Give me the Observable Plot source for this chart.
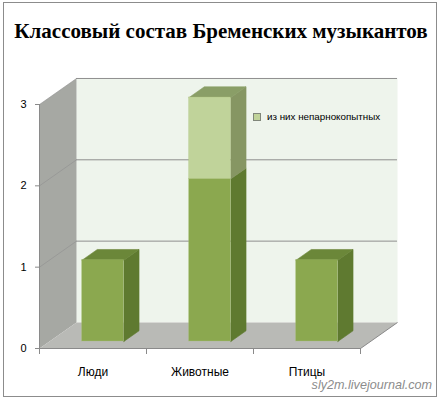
<!DOCTYPE html>
<html>
<head>
<meta charset="utf-8">
<script src="https://cdn.jsdelivr.net/npm/d3@7"></script>
<script src="https://cdn.jsdelivr.net/npm/@observablehq/plot@0.6"></script>
<style>
  html, body { margin: 0; padding: 0; background: #fff; }
  #wrap { position: relative; width: 439px; height: 398px; overflow: hidden; background: #fff; }
  #border { position: absolute; left: 3px; top: 2px; width: 434px; height: 395px; box-sizing: border-box; border: 1px solid #8c8c8c; }
  #title { position: absolute; left: 0; top: 21px; width: 442px; text-align: center; font: bold 21px/20px "Liberation Serif", "DejaVu Serif", serif; color: #000; white-space: nowrap; }
  #chart { position: absolute; left: 0; top: 0; }
  #legend { position: absolute; left: 253px; top: 111px; font: 9.8px/12px "Liberation Sans", Arial, sans-serif; color: #000; white-space: nowrap; }
  #legend .sw { display: inline-block; width: 6px; height: 6px; border: 1px solid #80867a; background: #c0d39a; margin-right: 6px; vertical-align: -1px; }
  #credit { position: absolute; right: 7px; top: 378px; font: italic 12.6px/14px "Liberation Sans", Arial, sans-serif; color: #8c8c8c; }
</style>
</head>
<body>
<div id="wrap">
  <div id="border"></div>
  <div id="chart"></div>
  <div id="title">Классовый состав Бременских музыкантов</div>
  <div id="legend"><span class="sw"></span>из них непарнокопытных</div>
  <div id="credit">sly2m.livejournal.com</div>
</div>
<script>
// ---- data ----
const categories = ["Люди", "Животные", "Птицы"];
const baseValues = [1, 2, 1];          // основной ряд
const oddToedValues = [0, 1, 0];       // из них непарнокопытных
const seriesNames = ["", "из них непарнокопытных"];
const yTicks = [0, 1, 2, 3];

// ---- 3D geometry in data units ----
const Dx = 0.346, Dy = 0.32;      // depth of the box
const f0 = 0.27, f1 = 0.68;       // bar depth span (fraction of box depth)
const barW = 0.39;                // bar width (category units)
const yMax = yTicks[yTicks.length - 1];
const xMin = -0.5, xMax = categories.length - 0.5;

const colors = {
  base: { front: "#8ba84f", side: "#5f7a30", top: "#6b8739" },
  odd:  { front: "#c0d39a", side: "#869663", top: "#8a9e67" }
};

// segments
const segments = [];
categories.forEach((c, i) => {
  const b = baseValues[i], o = oddToedValues[i];
  segments.push({i, lo: 0, hi: b, kind: "base", isTop: o === 0});
  if (o > 0) segments.push({i, lo: b, hi: b + o, kind: "odd", isTop: true});
});

// polygons
const polys = [];
function addPoly(id, fill, pts) {
  pts.concat([pts[0]]).forEach(([x, y]) => polys.push({id, fill, x, y}));
}
// walls
addPoly("back", "#eef4ec", [[xMin + Dx, Dy], [xMax + Dx, Dy], [xMax + Dx, yMax + Dy], [xMin + Dx, yMax + Dy]]);
addPoly("left", "#a6a8a3", [[xMin, 0], [xMin + Dx, Dy], [xMin + Dx, yMax + Dy], [xMin, yMax]]);
addPoly("floor", "#b9bab6", [[xMin, 0], [xMax, 0], [xMax + Dx, Dy], [xMin + Dx, Dy]]);

const fronts = [];
const ddx = (f1 - f0) * Dx, ddy = (f1 - f0) * Dy;
segments.forEach((s, k) => {
  const xl = s.i - barW / 2 + f0 * Dx, xr = xl + barW;
  const lo = s.lo + f0 * Dy, hi = s.hi + f0 * Dy;
  const col = colors[s.kind];
  addPoly("side" + k, col.side, [[xr, lo], [xr + ddx, lo + ddy], [xr + ddx, hi + ddy], [xr, hi]]);
  if (s.isTop) addPoly("top" + k, col.top, [[xl, hi], [xr, hi], [xr + ddx, hi + ddy], [xl + ddx, hi + ddy]]);
  fronts.push({x1: xl, x2: xr, y1: lo, y2: hi, fill: col.front});
});

const polyIds = [...new Set(polys.map(d => d.id))];
const polyMarks = polyIds.map(id => {
  const rows = polys.filter(d => d.id === id);
  return Plot.line(rows, {x: "x", y: "y", fill: rows[0].fill, stroke: id.startsWith("side") || id.startsWith("top") ? rows[0].fill : "none", strokeWidth: 0.6, curve: "linear"});
});

const boundaries = categories.map((_, i) => i - 0.5).concat([categories.length - 0.5]);

const chart = Plot.plot({
  width: 439,
  height: 398,
  marginLeft: 39,
  marginRight: 79,
  marginTop: 104,
  marginBottom: 50,
  style: {background: "transparent", fontFamily: "'Liberation Sans', Arial, sans-serif", fontSize: "12px", color: "#000"},
  x: {domain: [xMin, xMax], axis: null},
  y: {domain: [0, yMax], axis: null},
  marks: [
    ...polyMarks.slice(0, 3),
    // back-wall gridlines
    Plot.ruleY(yTicks.slice(1), {y: d => d + Dy, x1: xMin + Dx, x2: xMax + Dx, stroke: "#8e8e8e", strokeWidth: 1}),
    // side-wall gridlines
    Plot.link(yTicks.slice(1), {x1: xMin, y1: d => d, x2: xMin + Dx, y2: d => d + Dy, stroke: "#909090", strokeOpacity: 0.6, strokeWidth: 1}),
    // floor edges
    Plot.link([0], {x1: xMax, y1: 0, x2: xMax + Dx, y2: Dy, stroke: "#8a8a8a", strokeWidth: 1}),
    // bars
    ...polyMarks.slice(3),
    Plot.rect(fronts, {x1: "x1", x2: "x2", y1: "y1", y2: "y2", fill: "fill", stroke: "#a9c07a", strokeOpacity: 0.5, strokeWidth: 0.6}),
    // axes
    Plot.ruleX([xMin], {y1: 0, y2: yMax, stroke: "#8a8a8a", strokeWidth: 1}),
    Plot.ruleY([0], {x1: xMin, x2: xMax, stroke: "#8a8a8a", strokeWidth: 1}),
    Plot.axisY({ticks: yTicks, tickSize: 4, tickPadding: 9, tickFormat: d => String(d), label: null, stroke: "#8a8a8a", fontSize: 11}),
    Plot.axisX({ticks: boundaries, tickSize: 6, tickFormat: () => "", label: null, stroke: "#8a8a8a"}),
    Plot.axisX({ticks: categories.map((_, i) => i), tickSize: 0, tickPadding: 19, tickFormat: i => categories[i], label: null, fontSize: 12})
  ]
});
document.getElementById("chart").appendChild(chart);
</script>
</body>
</html>
